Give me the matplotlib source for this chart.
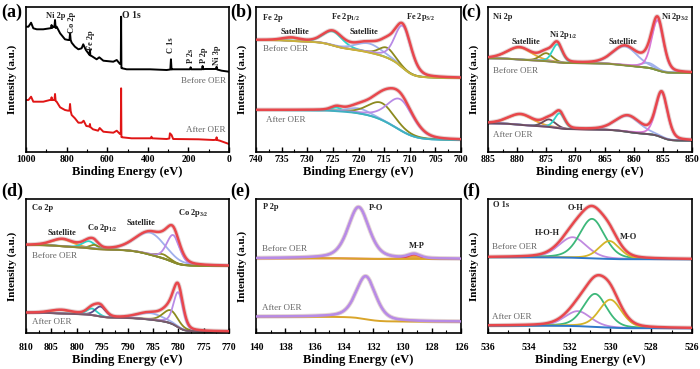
import numpy as np
import matplotlib
matplotlib.use('Agg')
import matplotlib.pyplot as plt
from matplotlib.ticker import MultipleLocator

plt.rcParams['font.family'] = ['Liberation Serif', 'DejaVu Serif']
plt.rcParams['font.weight'] = 'bold'
plt.rcParams['axes.labelweight'] = 'bold'
plt.rcParams['mathtext.default'] = 'regular'

# ---- (a) survey spectra : binding energy (eV) / intensity (a.u.)
surv_be_before = [1000, 988, 975, 964, 947, 915, 882, 876, 874, 872, 865, 860, 857, 854, 849, 832, 808, 792,
                  786, 783, 780, 775, 759, 742, 726, 718, 705, 693, 687, 685, 683, 677, 652, 639, 619, 570,
                  553, 537, 533, 531.5, 530, 526, 504, 389, 307, 289, 286, 283, 278, 209, 192, 189, 186,
                  176, 133, 130, 127, 118, 77, 64, 61, 58, 36, 0]
surv_before = [125.3, 125.3, 129.3, 123.7, 122.7, 122.7, 123.7, 124, 127, 124, 125.3, 125, 132, 124, 125.3,
               118.7, 112.7, 112, 112, 118.7, 112, 109.3, 105.3, 102.7, 103.7, 107.7, 102, 98.7, 97, 102.7,
               96.5, 96, 92.7, 94.7, 91.3, 90.3, 92, 88, 89, 135.3, 84, 83.7, 82.7, 82.7, 82, 82.5, 92.7,
               82.5, 82.7, 82.7, 82.7, 84.7, 82.7, 82.7, 82.7, 86, 82.8, 83, 83, 83, 85.3, 82.5, 81.3, 80.3]
surv_be_after = [1000, 988, 975, 964, 915, 882, 876, 874, 872, 865, 860, 857, 854, 849, 832, 808, 792, 786,
                 783, 780, 775, 759, 742, 726, 716, 703, 687, 685, 683, 670, 645, 637, 619, 570, 553, 537,
                 533, 531.5, 530, 526, 480, 385, 382, 379, 307, 294, 291, 283, 275, 150, 77, 64, 61, 58, 45, 0]
surv_after = [52, 52, 55.3, 50.3, 50.3, 52, 52, 54.7, 52, 52, 52, 58, 51, 50.3, 44.7, 42, 41.3, 41.5, 48,
              41, 37, 33.7, 29.3, 29.3, 31.3, 26, 25.5, 28, 25, 22.7, 21.3, 24, 20.3, 19.3, 21.3, 18, 18.5,
              63.7, 15, 14.7, 13.7, 13.7, 15.3, 13.7, 13, 13.5, 18.7, 17, 13, 12.7, 12, 12.2, 14.7, 12, 11.3, 8]

# ---- fitted components: centre (eV), height, FWHM (eV); background [high-BE end, low-BE end]
fe_bef_center = [733.0, 725.0, 718.0, 714.5, 711.3]
fe_bef_height = [3, 14, 9, 10, 42]
fe_bef_fwhm = [4, 4.5, 6, 3.5, 3.8]
fe_bef_bg = [112, 74]
fe_aft_center = [724.3, 720.0, 715.5, 711.8]
fe_aft_height = [3.5, 5, 17, 31]
fe_aft_fwhm = [2.5, 5, 6, 6]
fe_aft_bg = [42, 12]

ni_bef_center = [879.6, 875.0, 873.1, 861.5, 857.5, 855.9]
ni_bef_height = [12, 8, 18, 19, 5, 50]
ni_bef_fwhm = [5, 2.5, 2.0, 5, 3, 2.4]
ni_bef_bg = [93.7, 79]
ni_aft_center = [879.4, 874.5, 872.7, 861.0, 855.2]
ni_aft_height = [10.5, 7.5, 15, 16, 45]
ni_aft_fwhm = [5, 2.5, 2.0, 5, 2.4]
ni_aft_bg = [28.7, 11.3]

co_bef_center = [802.8, 797.6, 796.5, 785.5, 783.0, 781.0]
co_bef_height = [7, 7, 4, 22, 4, 27]
co_bef_fwhm = [5, 3, 2, 7, 3, 3]
co_bef_bg = [88, 67]
co_aft_center = [803.0, 797.0, 795.3, 785.5, 781.5, 780.0]
co_aft_height = [3.5, 6.5, 10, 6.5, 13, 35]
co_aft_fwhm = [5, 2.5, 2.5, 6, 3.5, 2.2]
co_aft_bg = [20.3, 1.5]

p_bef_center = [133.0, 129.2]
p_bef_height = [51.6, 4.3]
p_bef_fwhm = [1.7, 1.0]
p_bef_bg = [74.7, 74]
p_aft_center = [132.5]
p_aft_height = [43]
p_aft_fwhm = [1.6]
p_aft_bg = [16.3, 11.3]

o_bef_center = [531.85, 530.9, 530.05]
o_bef_height = [20.5, 39.5, 18]
o_bef_fwhm = [1.6, 1.45, 1.2]
o_bef_bg = [75.7, 73.7]
o_aft_center = [531.6, 530.75, 530.0]
o_aft_height = [15, 33, 28]
o_aft_fwhm = [1.5, 1.35, 1.3]
o_aft_bg = [7.3, 4.7]

RED = '#e8474c'
ORANGE = '#e8a53a'
CYAN = '#2fd3c6'
LBLUE = '#a0b0ec'
OLIVE = '#8c8a1e'
PURPLE = '#b88be6'
MAGENTA = '#d878d6'


def pv(x, c, h, w, m):
    g = np.exp(-4 * np.log(2) * ((x - c) / w) ** 2)
    l = 1 / (1 + 4 * ((x - c) / w) ** 2)
    return h * (m * l + (1 - m) * g)


def fit(ax, lo, hi, centers, heights, fwhms, bg, cols, bgcol, m=0.3, env=RED, fill=None):
    x = np.linspace(lo, hi, 800)
    peaks = [pv(x, c, h, w, m) for c, h, w in zip(centers, heights, fwhms)]
    total = np.sum(peaks, axis=0)
    frac = np.cumsum(total)
    frac = frac / frac[-1]
    base = bg[1] + (bg[0] - bg[1]) * frac
    ax.plot(x, base + total, color='#ddcaca', lw=3.2, alpha=0.8, zorder=1)
    for i, (p, col) in enumerate(zip(peaks, cols)):
        if fill is not None and i == fill:
            ax.fill_between(x, base, base + p, color=ORANGE, lw=0, zorder=2)
        ax.plot(x, base + p, color=col, lw=1.3, zorder=2)
    ax.plot(x, base, color=bgcol, lw=1.4, zorder=2.5)
    ax.plot(x, base + total, color=env, lw=1.8, zorder=3)


def setup(ax, xlim, ymax, major, ylab='Intensity (a.u.)', xlab='Binding Energy (eV)', pad=2, lab_y=-0.1):
    ax.set_xlim(*xlim)
    ax.set_ylim(0, ymax)
    ax.set_yticks([])
    ax.xaxis.set_major_locator(MultipleLocator(major))
    ax.xaxis.set_minor_locator(MultipleLocator(major / 2))
    ax.tick_params(axis='x', which='both', direction='in', labelsize=7, pad=pad)
    ax.tick_params(axis='x', which='major', length=3.5, width=1)
    ax.tick_params(axis='x', which='minor', length=2, width=0.8)
    for t in ax.get_xticklabels():
        t.set_fontweight('bold')
    for s in ax.spines.values():
        s.set_linewidth(1.2)
    ax.set_ylabel(ylab, fontsize=8, fontweight='bold')
    ax.yaxis.set_label_coords(-0.042, 0.5)
    ax.set_xlabel(xlab, fontsize=9, fontweight='bold')
    ax.xaxis.set_label_coords(0.5, lab_y)
    ax.xaxis.label.set_va('top')


def note(ax, x, y, s, ha='center', rot=0, va='center', size=6):
    ax.text(x, y, s, ha=ha, va=va, rotation=rot, fontsize=size, fontweight='bold', color='#222222')


def oer(ax, x, y, s):
    ax.text(x, y, s, ha='left', va='center', fontsize=6.5, fontweight='normal', color='#666666')


fig = plt.figure(figsize=(7, 3.69), dpi=100)
W, H = 700, 369
cols_x = [26, 256, 488]
cols_w = [203, 205, 204]
top = [7, 199]
hts = [145, 134]
axs = []
for r in range(2):
    for c in range(3):
        axs.append(fig.add_axes([cols_x[c] / W, 1 - (top[r] + hts[r]) / H, cols_w[c] / W, hts[r] / H]))
ax_a, ax_b, ax_c, ax_d, ax_e, ax_f = axs

# (a)
ax_a.plot(surv_be_before, surv_before, color='black', lw=1.4)
ax_a.plot(surv_be_after, surv_after, color='#e01515', lw=1.4)
setup(ax_a, (1000, 0), 145, 200, pad=2, lab_y=-0.095)
note(ax_a, 852, 136, 'Ni 2p')
note(ax_a, 775, 119, 'Co 2p', rot=90, va='bottom')
note(ax_a, 680, 102, 'Fe 2p', rot=90, va='bottom')
note(ax_a, 528, 137, 'O 1s', ha='left', size=7)
note(ax_a, 287, 99, 'C 1s', rot=90, va='bottom')
note(ax_a, 187, 89, 'P 2s', rot=90, va='bottom')
note(ax_a, 125, 89, 'P 2p', rot=90, va='bottom')
note(ax_a, 61, 87, 'Ni 3p', rot=90, va='bottom')
ax_a.text(16, 71, 'Before OER', ha='right', va='center', fontsize=6.5, fontweight='normal', color='#666666')
ax_a.text(16, 22, 'After OER', ha='right', va='center', fontsize=6.5, fontweight='normal', color='#666666')

# (b) Fe 2p
fit(ax_b, 700, 740, fe_bef_center, fe_bef_height, fe_bef_fwhm, fe_bef_bg,
    [ORANGE, CYAN, LBLUE, OLIVE, PURPLE], '#c9b23a')
fit(ax_b, 700, 740, fe_aft_center, fe_aft_height, fe_aft_fwhm, fe_aft_bg,
    [CYAN, LBLUE, OLIVE, PURPLE], '#3fb0c0')
setup(ax_b, (740, 700), 145, 5, pad=2, lab_y=-0.095)
note(ax_b, 738.6, 134.5, 'Fe 2p', ha='left')
note(ax_b, 732.4, 120.3, 'Satellite')
note(ax_b, 722.6, 134.7, 'Fe 2p$_{1/2}$')
note(ax_b, 718.9, 120.3, 'Satellite')
note(ax_b, 707.8, 135, 'Fe 2p$_{3/2}$')
oer(ax_b, 738.6, 102.7, 'Before OER')
oer(ax_b, 738, 32, 'After OER')

# (c) Ni 2p
fit(ax_c, 850, 885, ni_bef_center, ni_bef_height, ni_bef_fwhm, ni_bef_bg,
    [ORANGE, OLIVE, CYAN, LBLUE, LBLUE, MAGENTA], '#8a8f3a')
fit(ax_c, 850, 885, ni_aft_center, ni_aft_height, ni_aft_fwhm, ni_aft_bg,
    [ORANGE, '#6b4a5a', CYAN, LBLUE, MAGENTA], '#6b5060')
setup(ax_c, (885, 850), 145, 5, xlab='Binding energy (eV)', pad=2, lab_y=-0.095)
note(ax_c, 884.1, 135.3, 'Ni 2p', ha='left')
note(ax_c, 878.5, 110.3, 'Satellite')
note(ax_c, 872.0, 117, 'Ni 2p$_{1/2}$')
note(ax_c, 861.8, 110.3, 'Satellite')
note(ax_c, 852.9, 135.3, 'Ni 2p$_{3/2}$')
oer(ax_c, 884.1, 81.3, 'Before OER')
oer(ax_c, 884.1, 17, 'After OER')

# (d) Co 2p
fit(ax_d, 770, 810, co_bef_center, co_bef_height, co_bef_fwhm, co_bef_bg,
    [ORANGE, CYAN, OLIVE, LBLUE, OLIVE, PURPLE], '#8c8a2e')
fit(ax_d, 770, 810, co_aft_center, co_aft_height, co_aft_fwhm, co_aft_bg,
    [ORANGE, CYAN, '#5a4a8a', LBLUE, OLIVE, PURPLE], '#7a5a6a')
setup(ax_d, (810, 770), 134, 5, pad=7, lab_y=-0.16)
note(ax_d, 808.8, 125, 'Co 2p', ha='left')
note(ax_d, 802.9, 100, 'Satellite')
note(ax_d, 795.0, 105, 'Co 2p$_{1/2}$')
note(ax_d, 787.3, 110, 'Satellite')
note(ax_d, 777.1, 120, 'Co 2p$_{3/2}$')
oer(ax_d, 808.8, 77, 'Before OER')
oer(ax_d, 808.8, 11.3, 'After OER')

# (e) P 2p
fit(ax_e, 126, 140, p_bef_center, p_bef_height, p_bef_fwhm, p_bef_bg,
    [PURPLE, RED], '#d9a52a', m=0.45, env=PURPLE, fill=1)
fit(ax_e, 126, 140, p_aft_center, p_aft_height, p_aft_fwhm, p_aft_bg,
    [PURPLE], '#d9a52a', m=0.45, env=PURPLE)
setup(ax_e, (140, 126), 134, 2, ylab='Intendity (a.u.)', pad=7, lab_y=-0.16)
note(ax_e, 139.5, 126, 'P 2p', ha='left')
note(ax_e, 131.8, 125, 'P-O')
note(ax_e, 129.0, 87, 'M-P')
oer(ax_e, 139.6, 84, 'Before OER')
oer(ax_e, 139.6, 25, 'After OER')

# (f) O 1s
fit(ax_f, 526, 536, o_bef_center, o_bef_height, o_bef_fwhm, o_bef_bg,
    ['#c08ae0', '#3db87a', '#d4b52a'], '#2f78c8')
fit(ax_f, 526, 536, o_aft_center, o_aft_height, o_aft_fwhm, o_aft_bg,
    ['#c08ae0', '#3db87a', '#d4b52a'], '#2f78c8')
setup(ax_f, (536, 526), 134, 2, pad=7, lab_y=-0.16)
note(ax_f, 535.75, 128, 'O 1s', ha='left')
note(ax_f, 531.7, 125, 'O-H')
note(ax_f, 533.1, 100, 'H-O-H')
note(ax_f, 529.1, 96, 'M-O')
oer(ax_f, 535.8, 86, 'Before OER')
oer(ax_f, 535.8, 16, 'After OER')

for lab, px, py in [('(a)', 1, 4), ('(b)', 230, 4), ('(c)', 461, 4),
                    ('(d)', 1, 183), ('(e)', 230, 183), ('(f)', 462, 183)]:
    fig.text(px / W, 1 - py / H, lab, ha='left', va='top', fontsize=13, fontweight='bold')

fig.savefig('out.png', dpi=100)
